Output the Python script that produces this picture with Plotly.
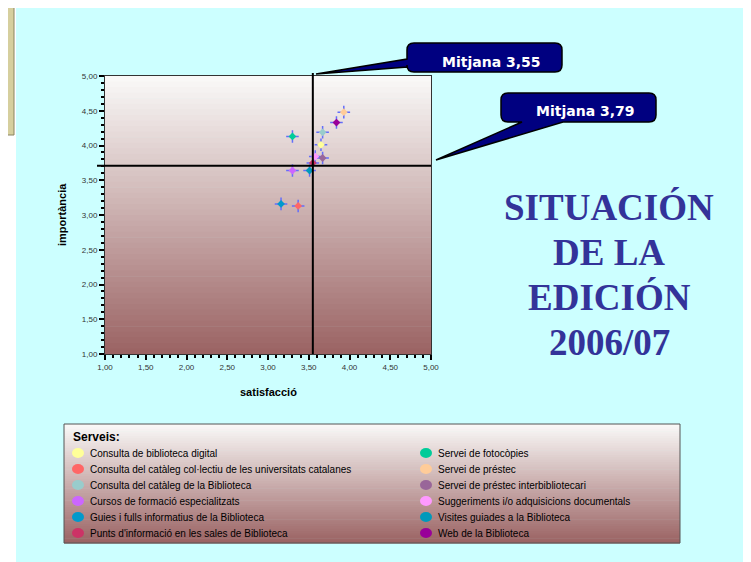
import plotly.graph_objects as go

# serveis: satisfacció (x) i importància (y)
serveis = ["Consulta de biblioteca digital",
           "Consulta del catàleg col·lectiu de les universitats catalanes",
           "Consulta del catàleg de la Biblioteca",
           "Cursos de formació especialitzats",
           "Guies i fulls informatius de la Biblioteca",
           "Punts d'informació en les sales de Biblioteca",
           "Servei de fotocòpies",
           "Servei de préstec",
           "Servei de préstec interbibliotecari",
           "Suggeriments i/o adquisicions documentals",
           "Visites guiades a la Biblioteca",
           "Web de la Biblioteca"]
satisfaccio = [3.65, 3.37, 3.67, 3.30, 3.16, 3.55, 3.30, 3.93, 3.67, 3.58, 3.51, 3.84]
importancia = [4.01, 3.13, 4.19, 3.64, 3.16, 3.75, 4.13, 4.48, 3.82, 3.84, 3.64, 4.33]
colors = ["#FFFF99", "#FF6666", "#99CCCC", "#CC66FF", "#0099CC", "#CC3366",
          "#00CC99", "#FFCC99", "#996699", "#FF99FF", "#0099BB", "#990099"]

mitjana_x = 3.55   # satisfacció
mitjana_y = 3.71   # línia tal com està dibuixada
label_x = "Mitjana 3,55"
label_y = "Mitjana 3,79"
titol = ["SITUACIÓN", "DE LA", "EDICIÓN", "2006/07"]

# page is offset by the 8px body margin; positions below are screen pixels
O = 8
L, T, W, H = 105 - O, 76 - O, 326, 278
FW, FH = 751 - O, 562 - O
def px(x): return (x - O - L) / W
def py(y): return (T + H - (y - O)) / H

fig = go.Figure()
fig.add_trace(go.Scatter(x=satisfaccio, y=importancia, mode="markers",
                         marker=dict(symbol="cross-thin-open", size=9,
                                     line=dict(color=colors, width=1.5)),
                         hoverinfo="skip", showlegend=False))
fig.add_trace(go.Scatter(x=satisfaccio, y=importancia, mode="markers", text=serveis,
                         marker=dict(symbol="diamond", size=6, color=colors,
                                     line=dict(width=0)),
                         showlegend=False))

shapes = []
# page background
shapes.append(dict(type="rect", xref="paper", yref="paper", x0=px(16), x1=px(770),
                   y0=py(8), y1=py(580), fillcolor="#CCFFFF", line_width=0, layer="below"))
shapes.append(dict(type="rect", xref="paper", yref="paper", x0=px(0), x1=px(14),
                   y0=py(-5), y1=py(135), fillcolor="#D6CF9E",
                   line=dict(color="#8A8460", width=1), layer="below"))

def gradient(x0, x1, y0, y1, n=50):
    top, bot = (249, 248, 247), (155, 100, 100)
    out = []
    for i in range(n):
        t = i / (n - 1)
        c = tuple(round(top[k] + (bot[k] - top[k]) * t) for k in range(3))
        ya = y0 + (y1 - y0) * i / n
        yb = y0 + (y1 - y0) * (i + 1) / n
        out.append(dict(type="rect", xref="paper", yref="paper", x0=px(x0), x1=px(x1),
                        y0=py(ya), y1=py(yb + 0.6), fillcolor="rgb(%d,%d,%d)" % c,
                        line_width=0, layer="below"))
    return out

shapes += gradient(105, 431, 76, 354)
shapes += gradient(64, 680, 424, 543)
shapes.append(dict(type="rect", xref="paper", yref="paper", x0=px(64), x1=px(680),
                   y0=py(424), y1=py(543), line=dict(color="#555555", width=1),
                   fillcolor="rgba(0,0,0,0)", layer="below"))

# mean lines
shapes.append(dict(type="line", xref="x", yref="paper", x0=mitjana_x, x1=mitjana_x,
                   y0=0, y1=py(73), line=dict(color="black", width=2)))
shapes.append(dict(type="line", xref="paper", yref="y", x0=px(97), x1=1,
                   y0=mitjana_y, y1=mitjana_y, line=dict(color="black", width=2)))

def callout(bx0, bx1, by0, by1, tail, r=7):
    p = "M %f,%f " % (px(bx0 + r), py(by0))
    p += "L %f,%f Q %f,%f %f,%f " % (px(bx1 - r), py(by0), px(bx1), py(by0), px(bx1), py(by0 + r))
    p += "L %f,%f Q %f,%f %f,%f " % (px(bx1), py(by1 - r), px(bx1), py(by1), px(bx1 - r), py(by1))
    pts = tail
    if pts[0][1] == by1:   # tail from bottom edge
        p += "L %f,%f L %f,%f L %f,%f " % (px(pts[0][0]), py(by1), px(pts[1][0]), py(pts[1][1]),
                                          px(pts[2][0]), py(by1))
        p += "L %f,%f Q %f,%f %f,%f " % (px(bx0 + r), py(by1), px(bx0), py(by1), px(bx0), py(by1 - r))
    else:                  # tail from left edge
        p += "L %f,%f Q %f,%f %f,%f " % (px(bx0 + r), py(by1), px(bx0), py(by1), px(bx0), py(by1 - r))
        p += "L %f,%f L %f,%f L %f,%f " % (px(bx0), py(pts[0][1]), px(pts[1][0]), py(pts[1][1]),
                                          px(bx0), py(pts[2][1]))
    p += "L %f,%f Q %f,%f %f,%f Z" % (px(bx0), py(by0 + r), px(bx0), py(by0), px(bx0 + r), py(by0))
    return dict(type="path", xref="paper", yref="paper", path=p, fillcolor="#000080",
                line=dict(color="black", width=1.5))

shapes.append(callout(407, 562, 43, 72, [(407, 67), (316, 74), (407, 59)]))
shapes.append(callout(501, 656, 93, 122, [(563, 122), (436, 160), (522, 122)]))

ann = []
def text(x, y, s, xanchor="center", **kw):
    ann.append(dict(xref="paper", yref="paper", x=px(x), y=py(y), text=s, showarrow=False,
                    xanchor=xanchor, yanchor="middle", **kw))

text(491, 62, "<b>" + label_x + "</b>", font=dict(family="DejaVu Sans", size=14, color="white"))
text(585, 111, "<b>" + label_y + "</b>", font=dict(family="DejaVu Sans", size=14, color="white"))
for i, line in enumerate(titol):
    text(609, 207 + 45 * i, "<b>" + line + "</b>",
         font=dict(family="Liberation Serif", size=37, color="#333399"))
text(268, 392, "<b>satisfacció</b>", font=dict(family="Liberation Sans", size=11, color="black"))
text(62, 215, "<b>importància</b>", textangle=-90,
     font=dict(family="Liberation Sans", size=11, color="black"))

# legend
text(71, 437, "<b>Serveis:</b>", xanchor="left",
     font=dict(family="Liberation Sans", size=12, color="black"))
for i, (name, c) in enumerate(zip(serveis, colors)):
    col, row = divmod(i, 6)
    cx = 78 if col == 0 else 426
    cy = 453 + 16 * row
    shapes.append(dict(type="circle", xref="paper", yref="paper", x0=px(cx - 6), x1=px(cx + 6),
                       y0=py(cy - 5), y1=py(cy + 5), fillcolor=c, line_width=0))
    text(cx + 10, cy, name, xanchor="left",
         font=dict(family="Liberation Sans", size=10, color="black"))

axis_common = dict(range=[1, 5], dtick=0.5, tickformat=".2f", showgrid=False, zeroline=False,
                   ticks="outside", ticklen=5, tickwidth=2, tickcolor="black",
                   minor=dict(dtick=0.1, ticks="outside", ticklen=3, tickwidth=2, tickcolor="black"),
                   showline=True, linecolor="#333333", linewidth=1, mirror=True,
                   tickfont=dict(family="Liberation Sans", size=8, color="#333333"))

fig.update_layout(width=FW, height=FH, margin=dict(l=L, r=FW - L - W, t=T, b=FH - T - H),
                  paper_bgcolor="white", plot_bgcolor="rgba(0,0,0,0)",
                  separators=",.", shapes=shapes, annotations=ann,
                  xaxis=axis_common, yaxis=axis_common, showlegend=False)

fig.write_html("out.html")
